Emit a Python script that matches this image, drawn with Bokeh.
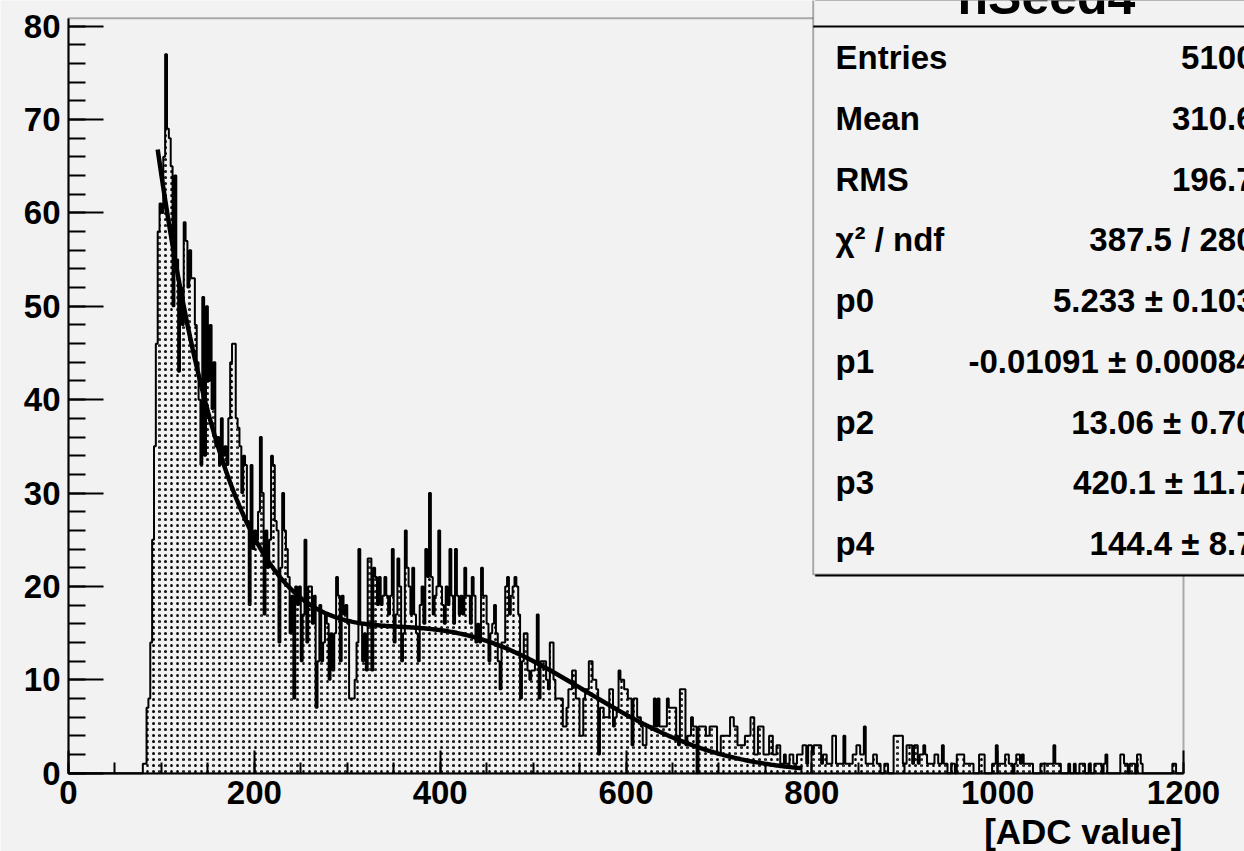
import numpy as np
from bokeh.plotting import figure
from bokeh.models import Range1d, SingleIntervalTicker, Label, BoxAnnotation
from bokeh.embed import file_html
from bokeh.resources import INLINE

# ---------------- data ----------------
hist_name = "hSeed4"
x_title = "[ADC value]"
bin_width = 2
x_lo, x_hi = 0, 1200
y_hi = 80.85

# bin contents, 2-unit bins from 0 to 1200 (first 40 bins empty)
counts = [0] * 40 + [
    1, 1, 7, 8, 14,        # 80
    25, 35, 46, 58, 61,    # 90
    60, 66, 77, 69, 68,    # 100
    65, 50, 64, 55, 43,    # 110
    52, 48, 59, 57, 52,    # 120
    56, 53, 53, 48, 44,    # 130
    40, 33, 51, 34, 50,    # 140
    42, 48, 39, 44, 35,    # 150
    36, 33, 38, 34, 35,    # 160
    33, 38, 44, 46, 46,    # 170
    38, 37, 35, 30, 34,    # 180
    33, 27, 18, 33, 24,    # 190
    26, 25, 28, 36, 30,    # 200
    17, 26, 22, 25, 34,    # 210
    33, 27, 26, 14, 22,    # 220
    30, 26, 24, 21, 15,    # 230
    19, 8, 20, 18, 20,     # 240
    12, 17, 25, 14, 20,    # 250
    20, 16, 19, 7, 12,     # 260
    18, 12, 14, 17, 16,    # 270
    10, 15, 11, 15, 21,    # 280
    19, 12, 19, 17, 18,    # 290
    16, 8, 8, 8, 10,       # 300
    14, 24, 16, 12, 15,    # 310
    11, 23, 23, 11, 22,    # 320
    21, 18, 21, 18, 19,    # 330
    21, 19, 17, 19, 24,    # 340
    14, 17, 23, 20, 12,    # 350
    15, 26, 22, 20, 17,    # 360
    22, 17, 15, 12, 18,    # 370
    20, 16, 24, 21, 30,    # 380
    21, 17, 19, 20, 26,    # 390
    20, 18, 16, 20, 18,    # 400
    24, 19, 16, 24, 19,    # 410
    17, 19, 17, 22, 19,    # 420
    19, 16, 21, 19, 14,    # 430
    16, 14, 22, 19, 19,    # 440
    16, 12, 15, 16, 18,    # 450
    15, 12, 9, 14, 14,     # 460
    20, 21, 17, 19, 20,    # 470
    21, 20, 17, 8, 12,     # 480
    15, 15, 11, 10, 11,    # 490
    11, 12, 17, 8, 12,     # 500
    12, 12, 10, 9, 14,     # 510
    14, 10, 8, 8, 8,       # 520
    8, 5, 5, 7, 9,         # 530
    9, 11, 11, 8, 8,       # 540
    4, 4, 8, 9, 9,         # 550
    12, 12, 10, 10, 9,     # 560
    2, 7, 7, 6, 6,         # 570
    6, 9, 9, 5, 6,         # 580
    7, 11, 10, 10, 9,      # 590
    9, 8, 8, 3, 8,         # 600
    8, 6, 6, 5, 3,         # 610
    3, 5, 5, 5, 5,         # 620
    8, 5, 8, 5, 5,         # 630
    5, 5, 8, 7, 7,         # 640
    7, 7, 4, 3, 9,         # 650
    9, 9, 3, 4, 4,         # 660
    6, 5, 5, 0, 5,         # 670
    5, 5, 5, 4, 4,         # 680
    5, 5, 5, 5, 2,         # 690
    2, 4, 4, 4, 4,         # 700
    4, 6, 6, 5, 5,         # 710
    3, 3, 3, 3, 4,         # 720
    4, 4, 6, 6, 2,         # 730
    2, 5, 5, 5, 2,         # 740
    2, 2, 4, 4, 2,         # 750
    2, 3, 3, 1, 1,         # 760
    2, 1, 1, 2, 2,         # 770
    1, 1, 2, 2, 2,         # 780
    3, 3, 1, 3, 3,         # 790
    2, 3, 3, 3, 3,         # 800
    1, 2, 2, 1, 1,         # 810
    1, 4, 4, 1, 1,         # 820
    1, 1, 4, 1, 1,         # 830
    1, 1, 2, 2, 3,         # 840
    3, 2, 2, 5, 1,         # 850
    1, 1, 1, 2, 2,         # 860
    1, 1, 0, 0, 1,         # 870
    1, 0, 0, 0, 4,         # 880
    4, 4, 4, 4, 1,         # 890
    1, 3, 3, 3, 1,         # 900
    3, 3, 1, 2, 2,         # 910
    3, 2, 1, 1, 1,         # 920
    1, 2, 2, 1, 1,         # 930
    3, 1, 1, 0, 0,         # 940
    1, 1, 0, 2, 2,         # 950
    2, 2, 1, 1, 1,         # 960
    1, 1, 0, 0, 0,         # 970
    2, 2, 2, 0, 0,         # 980
    0, 0, 1, 1, 3,         # 990
    1, 1, 1, 1, 2,         # 1000
    2, 1, 1, 0, 1,         # 1010
    2, 2, 1, 2, 1,         # 1020
    1, 1, 1, 1, 0,         # 1030
    0, 0, 0, 1, 1,         # 1040
    1, 1, 1, 1, 1,         # 1050
    3, 1, 1, 1, 0,         # 1060
    0, 0, 0, 1, 0,         # 1070
    0, 1, 0, 0, 1,         # 1080
    1, 1, 0, 0, 1,         # 1090
    0, 0, 1, 1, 1,         # 1100
    1, 0, 1, 2, 0,         # 1110
    0, 0, 0, 0, 0,         # 1120
    0, 2, 2, 1, 1,         # 1130
    0, 1, 1, 1, 0,         # 1140
    2, 2, 1, 0, 0,         # 1150
    0, 0, 0, 0, 0,         # 1160
    0, 0, 0, 0, 0,         # 1170
    0, 0, 0, 0, 1,         # 1180
    1, 0, 0, 0, 0,         # 1190
]

# fit: exp(p0 + p1*x) + p2*gaus(x; p3, p4)
fit_params = [5.233, -0.01091, 13.06, 420.1, 144.4]
fit_range = [96, 790]

stat_names = ["Entries", "Mean", "RMS", "\u03c7\u00b2 / ndf", "p0", "p1", "p2", "p3", "p4"]
stat_values = ["5100", "310.6", "196.7", "387.5 / 280",
               "5.233 \u00b1 0.103", "-0.01091 \u00b1 0.00084",
               "13.06 \u00b1 0.70", "420.1 \u00b1 11.7", "144.4 \u00b1 8.7"]

# ---------------- layout ----------------
W, H = 1244, 851
FL, FR, FT, FB = 68, 1183, 17.7, 772.7   # pixel positions of the data box
BG = "#f2f2f2"
FONT = "Liberation Sans"

def dx(px):
    return x_lo + (px - FL) * (x_hi - x_lo) / (FR - FL)

def dy(py):
    return (FB - py) * y_hi / (FB - FT)

# the frame covers the whole canvas; the data box sits inside it
p = figure(width=W, height=H, output_backend="svg", toolbar_location=None,
           x_range=Range1d(dx(0), dx(W)), y_range=Range1d(dy(H), dy(0)),
           min_border_left=0, min_border_right=0,
           min_border_top=0, min_border_bottom=0)
p.title.visible = False
p.background_fill_color = BG
p.border_fill_color = BG
p.outline_line_color = None
p.grid.visible = False

p.xaxis.fixed_location = 0
p.yaxis.fixed_location = 0
p.xaxis.bounds = (x_lo, x_hi)
p.yaxis.bounds = (0, y_hi)

for ax in (p.xaxis[0], p.yaxis[0]):
    ax.axis_line_width = 2
    ax.major_tick_line_width = 2
    ax.minor_tick_line_width = 2
    ax.major_tick_out = 0
    ax.minor_tick_out = 0
    ax.major_label_text_font = FONT
    ax.major_label_text_font_style = "bold"
    ax.major_label_text_font_size = "33px"
    ax.major_label_text_color = "black"

p.xaxis.ticker = SingleIntervalTicker(interval=200, num_minor_ticks=4)
p.yaxis.ticker = SingleIntervalTicker(interval=10, num_minor_ticks=5)
p.xaxis.major_tick_in = 23
p.xaxis.minor_tick_in = 11
p.yaxis.major_tick_in = 35
p.yaxis.minor_tick_in = 17
p.xaxis.major_label_standoff = 8
p.yaxis.major_label_standoff = 8

# frame of the data box
p.add_layout(BoxAnnotation(left=x_lo, right=x_hi, bottom=0, top=y_hi,
                           fill_alpha=0, line_color="black", line_width=2, level="guide"))

# histogram
edges = x_lo + bin_width * np.arange(len(counts) + 1)
p.quad(left=edges[:-1], right=edges[1:], bottom=0, top=counts,
       fill_alpha=0, line_color=None,
       hatch_pattern="dot", hatch_color="black", hatch_scale=6, hatch_weight=1.5)
p.step(x=edges, y=list(counts) + [counts[-1]], mode="after",
       line_color="black", line_width=2)

# fit curve
a0, a1, a2, a3, a4 = fit_params
fx = np.linspace(fit_range[0], fit_range[1], 500)
fy = np.exp(a0 + a1 * fx) + a2 * np.exp(-0.5 * ((fx - a3) / a4) ** 2)
p.line(fx, fy, line_color="black", line_width=4.5)

# x axis title (right aligned)
p.add_layout(Label(x=dx(1182), y=dy(831), text=x_title, text_align="right",
                   text_baseline="alphabetic", text_font=FONT, text_font_style="bold",
                   text_font_size="35px", text_color="black"))

# stats box
BOX_L, BOX_B, SEP = 812.7, 574, 26
p.add_layout(BoxAnnotation(left=dx(BOX_L + 2), right=dx(1320), top=dy(-50), bottom=dy(BOX_B + 2),
                           fill_color="black", fill_alpha=1, line_color=None, level="overlay"))
p.add_layout(BoxAnnotation(left=dx(BOX_L), right=dx(1300), top=dy(-60), bottom=dy(BOX_B),
                           fill_color=BG, fill_alpha=1, line_color="black", line_width=2,
                           level="overlay"))
p.add_layout(BoxAnnotation(left=dx(BOX_L), right=dx(1300), top=dy(SEP - 1), bottom=dy(SEP + 1),
                           fill_color="black", fill_alpha=1, line_color=None, level="overlay"))
p.add_layout(Label(x=dx(1046), y=dy(-4), text=hist_name, text_align="center",
                   text_baseline="alphabetic", text_font=FONT, text_font_style="bold",
                   text_font_size="50px", text_color="black", level="overlay"))
for k, (nm, val) in enumerate(zip(stat_names, stat_values)):
    base = 57 + 60.75 * k
    p.add_layout(Label(x=dx(835), y=dy(base), text=nm, text_align="left",
                       text_baseline="alphabetic", text_font=FONT, text_font_style="bold",
                       text_font_size="33px", text_color="black", level="overlay"))
    p.add_layout(Label(x=dx(1254), y=dy(base), text=val, text_align="right",
                       text_baseline="alphabetic", text_font=FONT, text_font_style="bold",
                       text_font_size="33px", text_color="black", level="overlay"))

open("out.html", "w").write(file_html(p, INLINE))
